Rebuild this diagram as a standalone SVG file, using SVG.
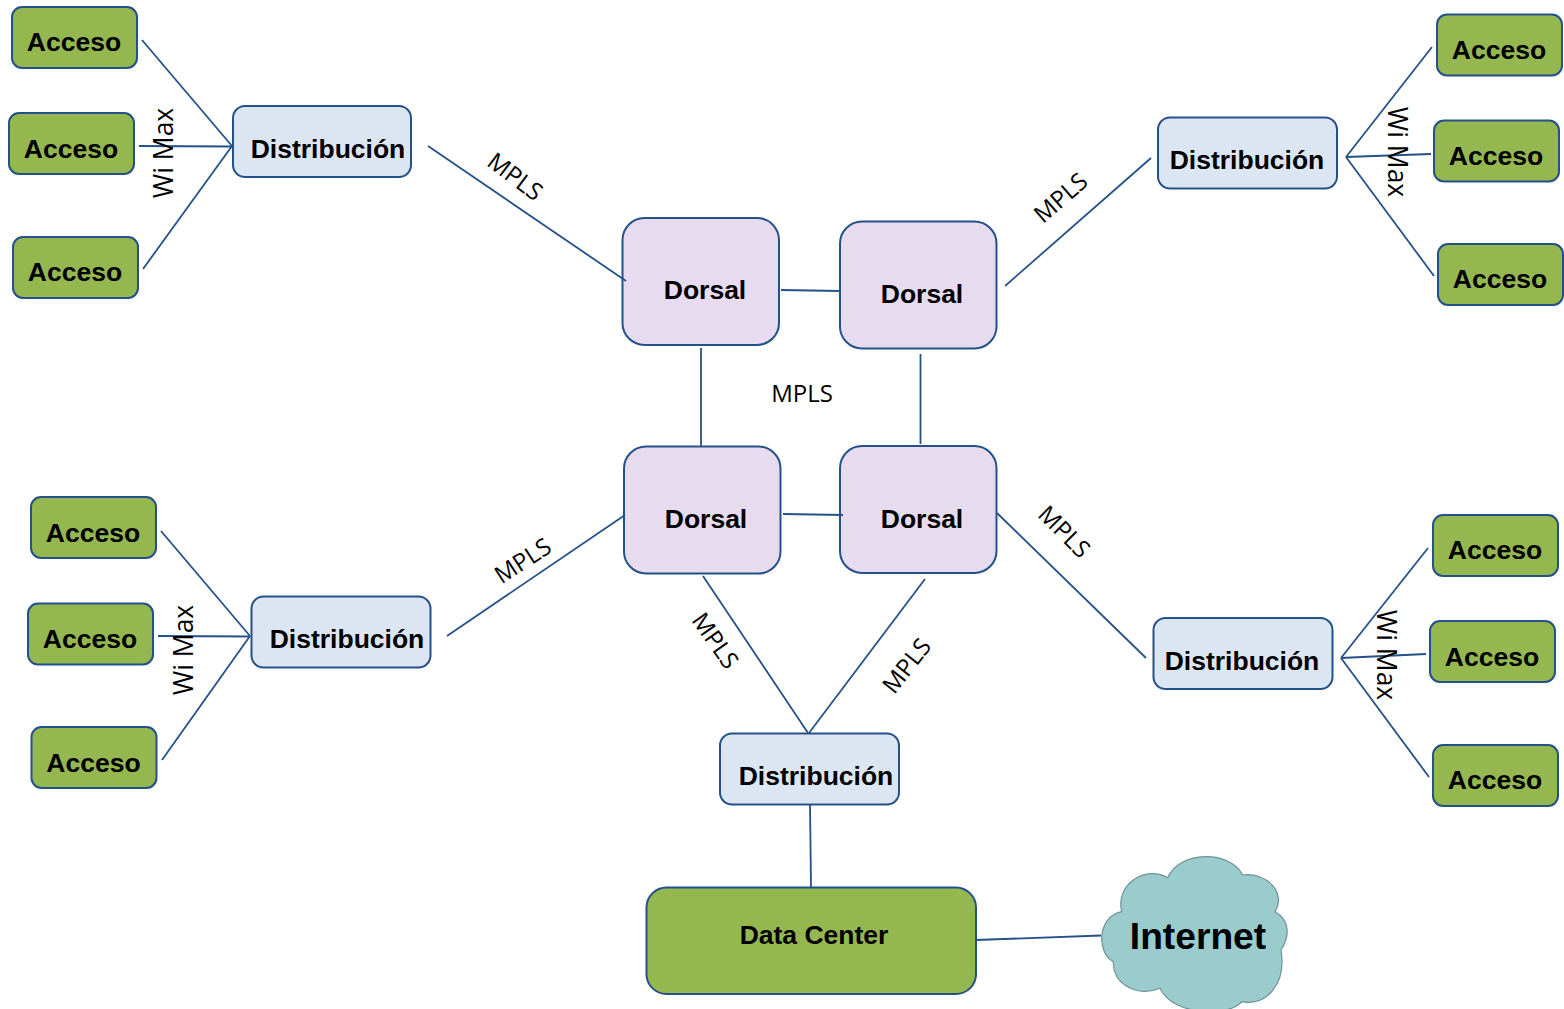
<svg xmlns="http://www.w3.org/2000/svg" width="1564" height="1009" viewBox="0 0 1564 1009">
<style>
.c line{stroke:#255189;stroke-width:1.8;fill:none}
.a rect{fill:#94b750;stroke:#255189;stroke-width:2}
.d rect{fill:#dce6f2;stroke:#255189;stroke-width:2}
.r rect{fill:#e6dbef;stroke:#255189;stroke-width:2}
.b{font-family:"Liberation Sans",Arial,sans-serif;font-weight:700;fill:#000;font-size:26.500px;text-anchor:middle}
.l{font-family:"Open Sans","Noto Sans",sans-serif;fill:#000;font-size:24px;text-anchor:middle}
.w{font-size:26.500px}
</style>
<rect width="1564" height="1009" fill="#fff"/>
<g id="acceso1" class="a"><rect x="12" y="7" width="125" height="61" rx="10"/><text class="b" x="74" y="51">Acceso</text></g>
<g id="acceso2" class="a"><rect x="9" y="113" width="125" height="61" rx="10"/><text class="b" x="71" y="158">Acceso</text></g>
<g id="acceso3" class="a"><rect x="13" y="237" width="125" height="61" rx="10"/><text class="b" x="75" y="281">Acceso</text></g>
<g id="acceso4" class="a"><rect x="1437" y="14.500" width="125" height="61" rx="10"/><text class="b" x="1499" y="59">Acceso</text></g>
<g id="acceso5" class="a"><rect x="1434" y="120.500" width="125" height="61" rx="10"/><text class="b" x="1496" y="165">Acceso</text></g>
<g id="acceso6" class="a"><rect x="1438" y="244" width="125" height="61" rx="10"/><text class="b" x="1500" y="288">Acceso</text></g>
<g id="acceso7" class="a"><rect x="31" y="497" width="125" height="61" rx="10"/><text class="b" x="93" y="542">Acceso</text></g>
<g id="acceso8" class="a"><rect x="28" y="603.500" width="125" height="61" rx="10"/><text class="b" x="90" y="648">Acceso</text></g>
<g id="acceso9" class="a"><rect x="31.500" y="727" width="125" height="61" rx="10"/><text class="b" x="93.500" y="772">Acceso</text></g>
<g id="acceso10" class="a"><rect x="1433" y="515" width="125" height="61" rx="10"/><text class="b" x="1495" y="559">Acceso</text></g>
<g id="acceso11" class="a"><rect x="1430" y="621" width="125" height="61" rx="10"/><text class="b" x="1492" y="666">Acceso</text></g>
<g id="acceso12" class="a"><rect x="1433" y="745" width="125" height="61" rx="10"/><text class="b" x="1495" y="789">Acceso</text></g>
<g id="dist1" class="d"><rect x="233" y="106" width="178" height="71" rx="12"/><text class="b" x="328" y="158">Distribución</text></g>
<g id="dist2" class="d"><rect x="1158" y="117.500" width="179" height="71" rx="12"/><text class="b" x="1247" y="169">Distribución</text></g>
<g id="dist3" class="d"><rect x="251.500" y="596.500" width="179" height="71" rx="12"/><text class="b" x="347" y="648">Distribución</text></g>
<g id="dist4" class="d"><rect x="1153.500" y="618" width="179" height="71" rx="12"/><text class="b" x="1242" y="670">Distribución</text></g>
<g id="dist5" class="d"><rect x="720" y="733.500" width="179" height="71" rx="12"/><text class="b" x="816" y="785">Distribución</text></g>
<g id="dorsal1" class="r"><rect x="622.500" y="218" width="156.500" height="127" rx="22"/><text class="b" x="705" y="299">Dorsal</text></g>
<g id="dorsal2" class="r"><rect x="840" y="221.500" width="156.500" height="127" rx="22"/><text class="b" x="922" y="303">Dorsal</text></g>
<g id="dorsal3" class="r"><rect x="624" y="446.500" width="156.500" height="127" rx="22"/><text class="b" x="706" y="528">Dorsal</text></g>
<g id="dorsal4" class="r"><rect x="840" y="446" width="156.500" height="127" rx="22"/><text class="b" x="922" y="528">Dorsal</text></g>
<g id="datacenter"><rect x="646.500" y="887.500" width="329.500" height="106.500" rx="20" fill="#94b750" stroke="#255189" stroke-width="2"/><text class="b" x="814" y="944">Data Center</text></g>
<g id="internet"><path d="M1121.700 911.700C1115 883.300 1146.700 865 1167.700 877.700C1180 850 1230 850 1242.700 875C1266.700 871.700 1286.700 893.300 1275 911.700C1290 920 1290 936.700 1281 950C1286.700 983.300 1266.700 1006.700 1241.700 1001.700C1230 1016.700 1173.300 1016.700 1160 988.300C1140 996.700 1113.300 986.700 1113.300 961.700C1096.700 953.300 1096.700 916.700 1121.700 911.700Z" fill="#9acccd" stroke="#6e9297" stroke-width="1.200"/><text class="b" x="1198" y="949" style="font-size:37.200px">Internet</text></g>
<g id="connectors" class="c">
<line x1="142" y1="40" x2="232" y2="146"/><line x1="139" y1="146" x2="232" y2="146.500"/><line x1="143" y1="269" x2="232" y2="146"/>
<line x1="428" y1="146" x2="626" y2="281"/>
<line x1="1432" y1="47" x2="1346" y2="157"/><line x1="1431" y1="154" x2="1346" y2="157"/><line x1="1434" y1="276" x2="1346" y2="157"/>
<line x1="1151" y1="158" x2="1005" y2="286"/>
<line x1="161" y1="531" x2="250" y2="636"/><line x1="158" y1="636" x2="250" y2="636.500"/><line x1="162" y1="760" x2="250" y2="636"/>
<line x1="447" y1="636" x2="625" y2="515"/>
<line x1="1428" y1="548" x2="1341" y2="658"/><line x1="1426" y1="654" x2="1341" y2="658"/><line x1="1429" y1="777" x2="1341" y2="658"/>
<line x1="997" y1="513" x2="1146" y2="658"/>
<line x1="781" y1="290" x2="840" y2="291"/><line x1="783" y1="514" x2="843" y2="515"/>
<line x1="701" y1="348" x2="701" y2="446"/><line x1="920.500" y1="354" x2="920.500" y2="444"/>
<line x1="703" y1="576" x2="808" y2="733"/><line x1="925" y1="579" x2="809" y2="733"/>
<line x1="810" y1="804" x2="811" y2="887"/><line x1="976" y1="940" x2="1101" y2="935.500"/>
</g>
<g id="labels">
<text class="l" transform="translate(515 177) rotate(37)" y="8">MPLS</text>
<text class="l" transform="translate(1061 198) rotate(-41)" y="8">MPLS</text>
<text class="l" x="802" y="402">MPLS</text>
<text class="l" transform="translate(523 561) rotate(-33)" y="8">MPLS</text>
<text class="l" transform="translate(1064 532) rotate(45)" y="8">MPLS</text>
<text class="l" transform="translate(715 641) rotate(55)" y="8">MPLS</text>
<text class="l" transform="translate(907 666) rotate(-52)" y="8">MPLS</text>
<text class="l w" transform="translate(163.500 153) rotate(-90)" y="9.500">Wi Max</text>
<text class="l w" transform="translate(183.500 650) rotate(-90)" y="9.500">Wi Max</text>
<text class="l w" transform="translate(1397.500 152) rotate(90)" y="9.500">Wi Max</text>
<text class="l w" transform="translate(1386.500 655) rotate(90)" y="9.500">Wi Max</text>
</g>
</svg>
